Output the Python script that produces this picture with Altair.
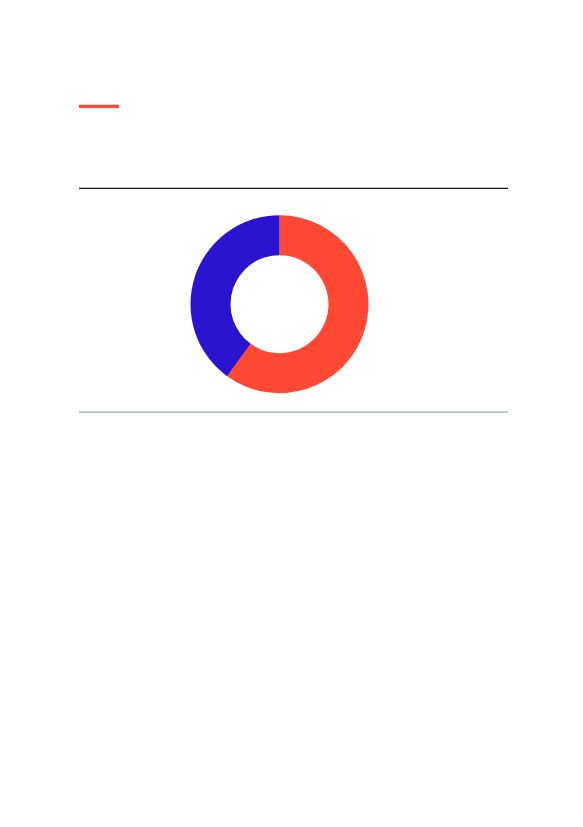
import altair as alt
import pandas as pd

categories = ["Segment A", "Segment B"]
values = [60, 40]
order = [1, 2]
colors = ["#FF4935", "#2B14D0"]

df = pd.DataFrame({"category": categories, "value": values, "order": order})

donut = alt.Chart(df).mark_arc(outerRadius=89, innerRadius=49).encode(
    theta=alt.Theta("value:Q", stack=True),
    order=alt.Order("order:Q"),
    color=alt.Color("category:N", scale=alt.Scale(domain=categories, range=colors), legend=None),
    x=alt.value(271.5),
    y=alt.value(296.2),
)

base = alt.Chart(pd.DataFrame({"k": [0]}))
red_bar = base.mark_rule(color="#FF4935", strokeWidth=3.2).encode(
    x=alt.value(71), x2=alt.value(111), y=alt.value(98.4)
)
top_rule = base.mark_rule(color="#1a1a1a", strokeWidth=1.3).encode(
    x=alt.value(71), x2=alt.value(500), y=alt.value(180.3)
)
bottom_rule = base.mark_rule(color="#9aabae", strokeWidth=1.2).encode(
    x=alt.value(71), x2=alt.value(500), y=alt.value(404.2)
)

chart = alt.layer(red_bar, top_rule, donut, bottom_rule).properties(
    width=567, height=500, padding=0, autosize=alt.AutoSizeParams(type="none")
).configure_view(stroke=None)

chart.save("out.html", embed_options={"renderer": "svg", "actions": False})
